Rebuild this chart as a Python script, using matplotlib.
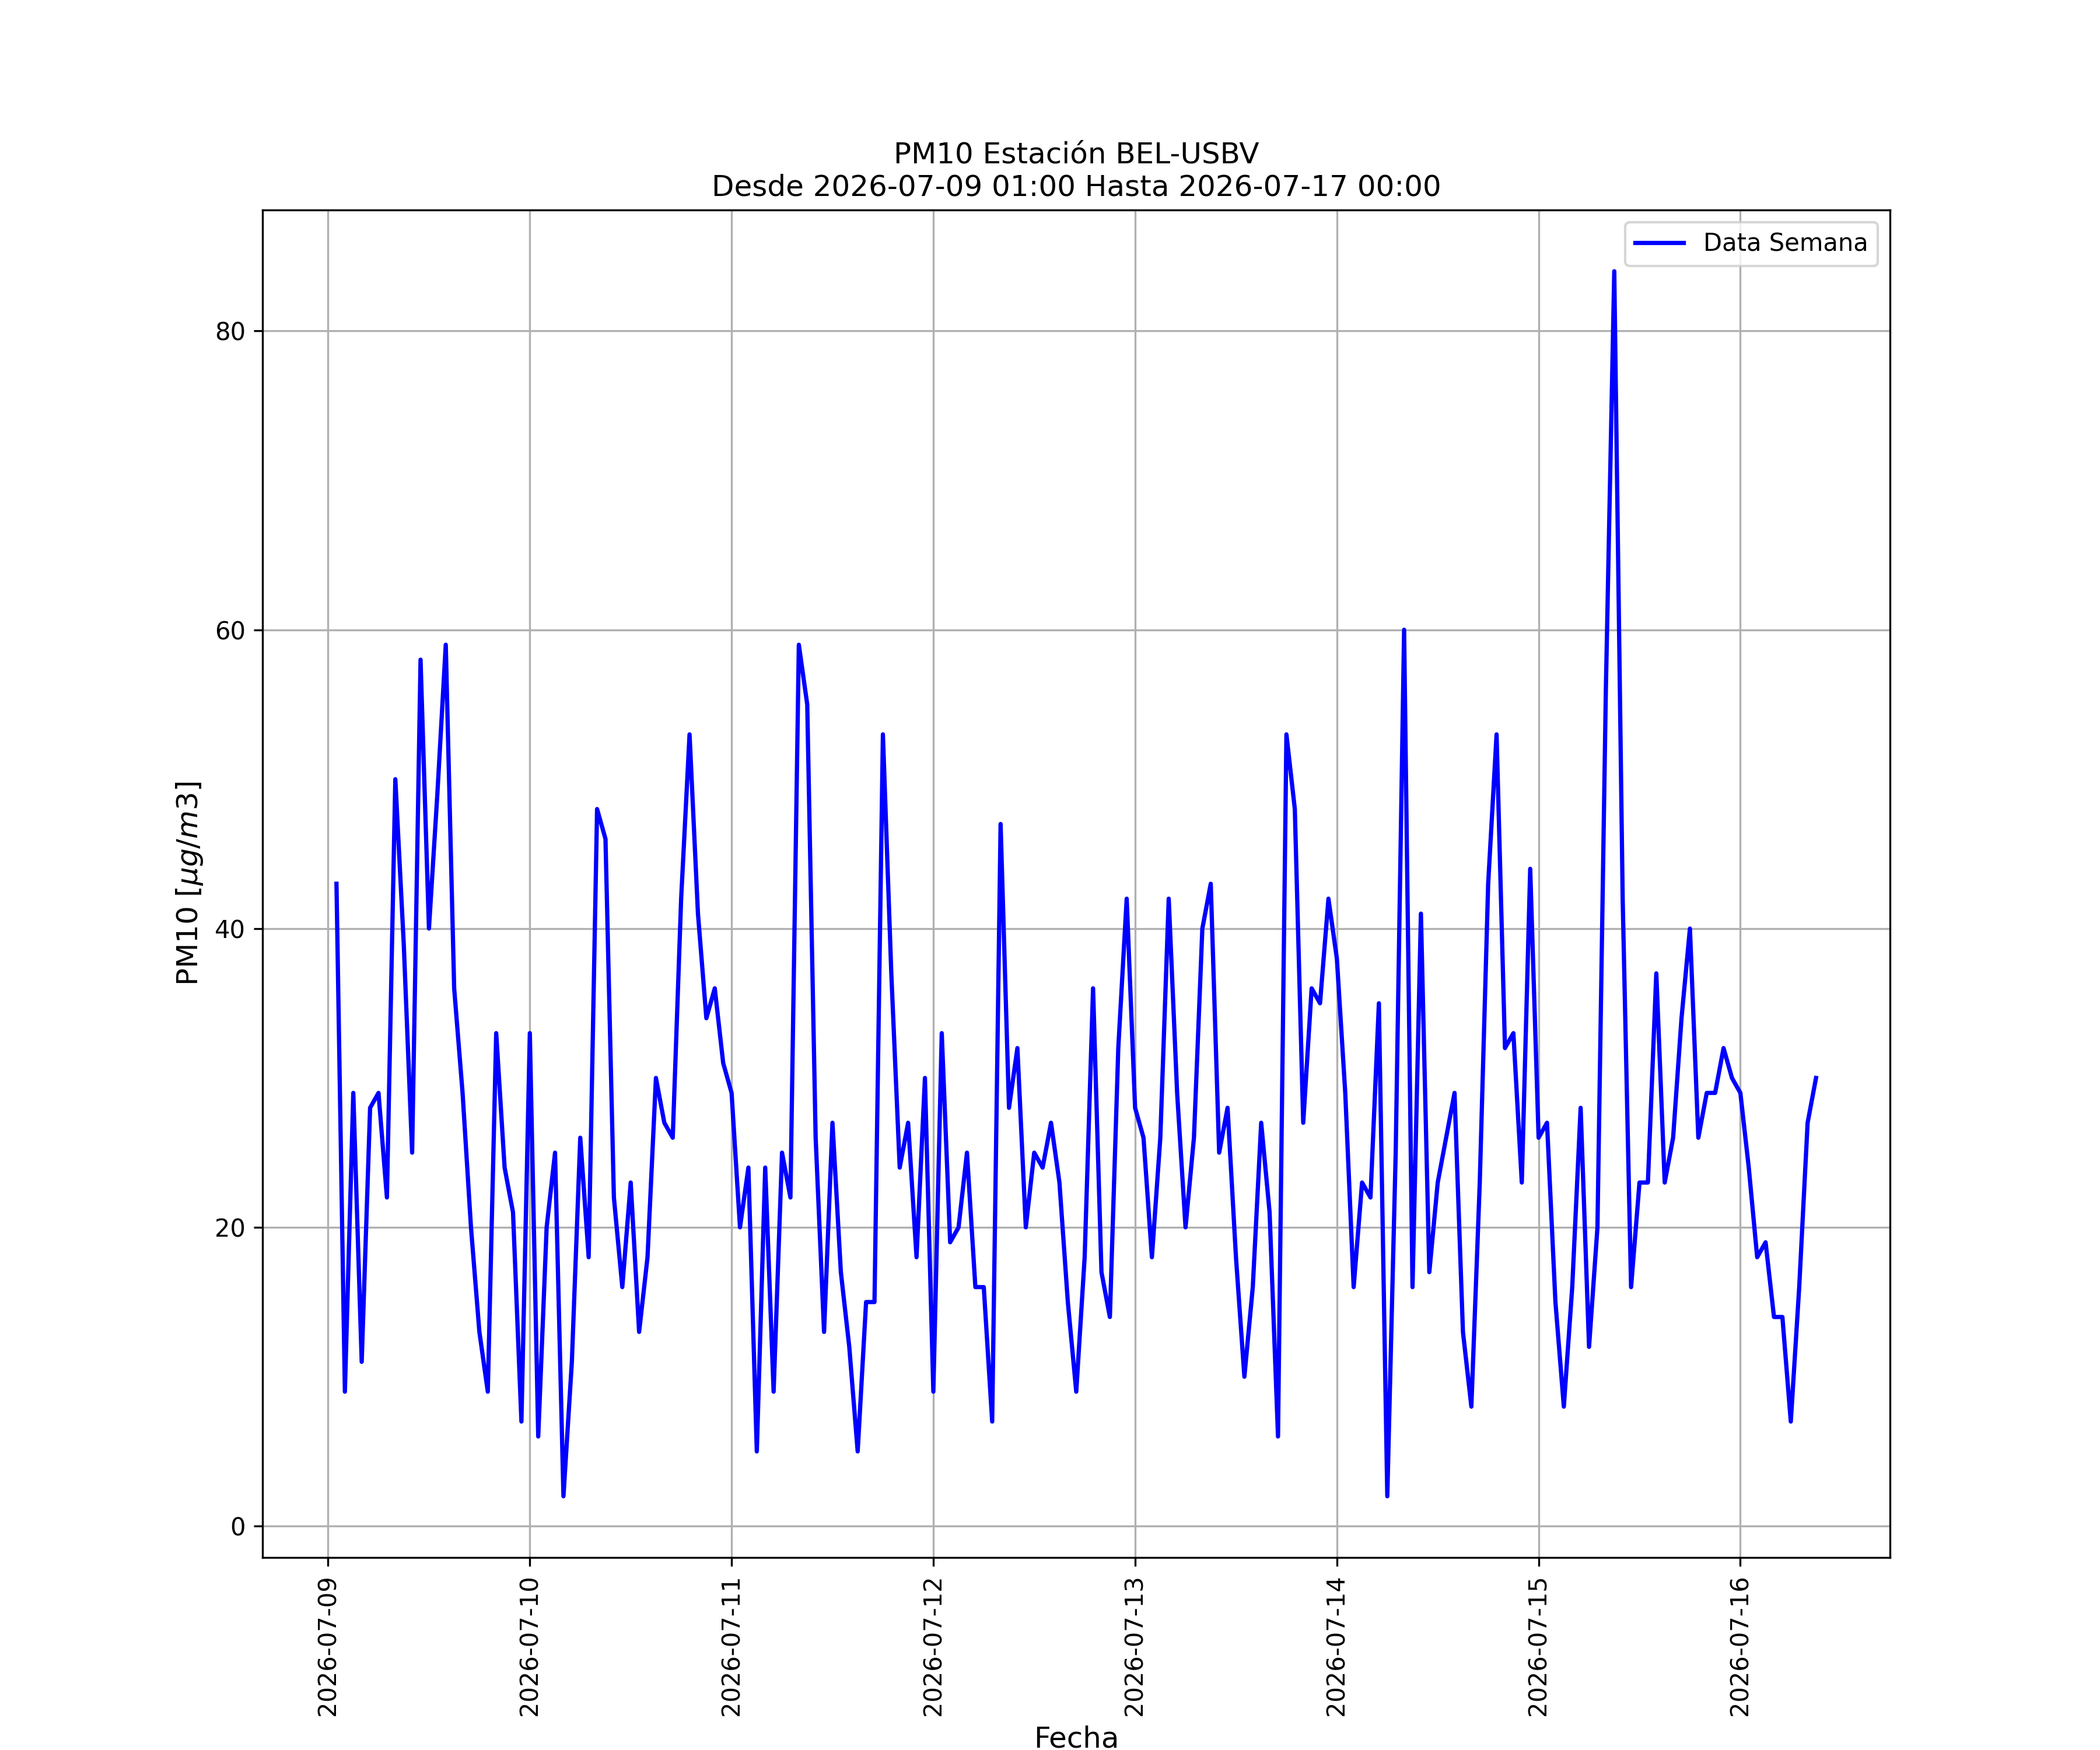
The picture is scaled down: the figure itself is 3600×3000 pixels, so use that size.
import pandas as pd
import matplotlib
matplotlib.use("Agg")
import matplotlib.pyplot as plt

# Datos horarios PM10 (ug/m3), desde 2026-07-09 01:00
inicio = "2026-07-09 01:00"
estacion = "BEL-USBV"

dia_09 = [43, 9, 29, 11, 28, 29, 22, 50, 39, 25, 58, 40, 49, 59, 36, 29,
          20, 13, 9, 33, 24, 21, 7]
dia_10 = [33, 6, 20, 25, 2, 11, 26, 18, 48, 46, 22, 16, 23, 13, 18, 30,
          27, 26, 42, 53, 41, 34, 36, 31]
dia_11 = [29, 20, 24, 5, 24, 9, 25, 22, 59, 55, 26, 13, 27, 17, 12, 5,
          15, 15, 53, 37, 24, 27, 18, 30]
dia_12 = [9, 33, 19, 20, 25, 16, 16, 7, 47, 28, 32, 20, 25, 24, 27, 23,
          15, 9, 18, 36, 17, 14, 32, 42]
dia_13 = [28, 26, 18, 26, 42, 29, 20, 26, 40, 43, 25, 28, 18, 10, 16, 27,
          21, 6, 53, 48, 27, 36, 35, 42]
dia_14 = [38, 29, 16, 23, 22, 35, 2, 25, 60, 16, 41, 17, 23, 26, 29, 13,
          8, 23, 43, 53, 32, 33, 23, 44]
dia_15 = [26, 27, 15, 8, 16, 28, 12, 20, 56, 84, 42, 16, 23, 23, 37, 23,
          26, 34, 40, 26, 29, 29, 32, 30]
dia_16 = [29, 24, 18, 19, 14, 14, 7, 16, 27, 30]

valores = dia_09 + dia_10 + dia_11 + dia_12 + dia_13 + dia_14 + dia_15 + dia_16


def main():
    fechas = pd.date_range(inicio, periods=len(valores), freq="h")
    df = pd.DataFrame({"Fecha": fechas, "PM10": valores})

    plt.figure(figsize=(12, 10))
    plt.plot(df["Fecha"], df["PM10"], color="blue", linewidth=1.75, label="Data Semana")
    plt.title("PM10 Estación " + estacion + "\nDesde 2026-07-09 01:00 Hasta 2026-07-17 00:00",
              fontsize=12)
    plt.xlabel("Fecha", fontsize=12)
    plt.ylabel(r"PM10 [$\mu g/m3$]", fontsize=12)
    plt.xticks(rotation=90)
    plt.grid(True)
    plt.legend(loc="upper right")
    plt.savefig("out.png", dpi=300)
    plt.close()


if __name__ == "__main__":
    main()
